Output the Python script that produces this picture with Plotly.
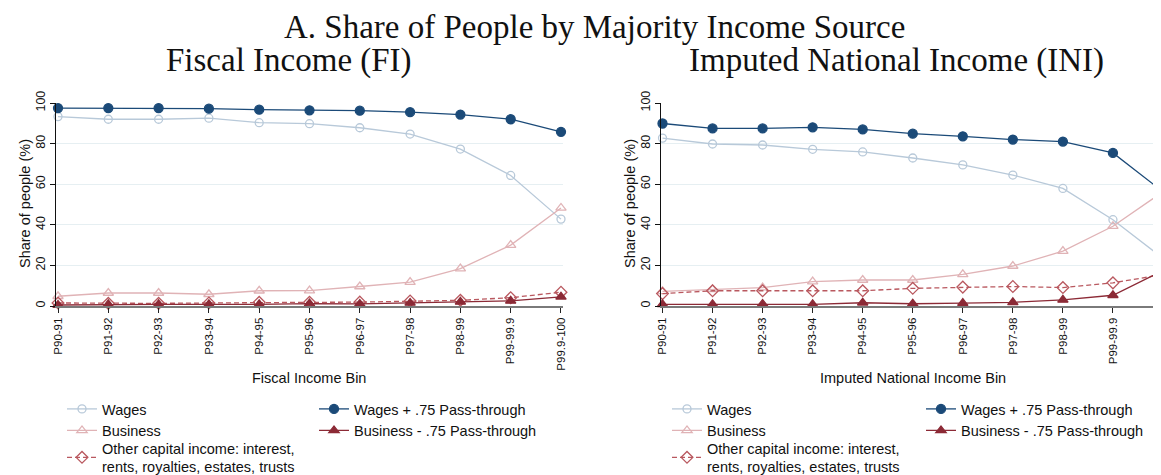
import plotly.graph_objects as go

bins = ["P90-91", "P91-92", "P92-93", "P93-94", "P94-95", "P95-96",
        "P96-97", "P97-98", "P98-99", "P99-99.9", "P99.9-100"]

# Fiscal Income (FI)
fi_wages = [93.3, 92.0, 92.0, 92.5, 90.3, 89.8, 87.8, 84.7, 77.3, 64.3, 42.8]
fi_business = [4.8, 6.4, 6.4, 5.8, 7.5, 7.6, 9.6, 11.8, 18.4, 30.0, 48.3]
fi_other = [1.5, 1.3, 1.3, 1.5, 1.8, 1.8, 1.9, 2.5, 2.8, 4.1, 6.8]
fi_wages_pt = [97.5, 97.5, 97.5, 97.2, 96.7, 96.4, 96.2, 95.5, 94.3, 92.0, 85.8]
fi_business_pt = [0.5, 0.8, 0.8, 0.8, 0.8, 1.2, 1.0, 1.5, 2.0, 2.5, 4.5]

# Imputed National Income (INI)
ini_wages = [82.7, 79.8, 79.3, 77.2, 75.9, 72.9, 69.5, 64.5, 57.9, 42.5, 23.5]
ini_business = [7.2, 8.2, 9.1, 12.0, 12.8, 12.8, 15.6, 19.7, 27.0, 39.3, 56.3]
ini_other = [6.1, 7.5, 7.5, 7.5, 7.5, 8.7, 9.3, 9.6, 9.1, 11.4, 15.5]
ini_wages_pt = [89.9, 87.5, 87.5, 88.0, 87.0, 84.9, 83.6, 82.0, 81.0, 75.4, 56.3]
ini_business_pt = [0.8, 0.8, 1.0, 0.8, 1.6, 1.1, 1.4, 1.8, 3.0, 5.3, 17.5]

names = ["Wages", "Business",
         "Other capital income: interest,<br>rents, royalties, estates, trusts",
         "Wages + .75 Pass-through", "Business - .75 Pass-through"]

C_W = "#b8c9d9"
C_WPT = "#1b4a78"
C_B = "#e0b3b6"
C_BPT = "#8c2a36"
C_O = "#b9585f"

styles = [
    dict(color=C_W, symbol="circle-open", size=8, dash="solid"),
    dict(color=C_B, symbol="triangle-up-open", size=9, dash="solid"),
    dict(color=C_O, symbol="diamond-open", size=9, dash="5px,3px"),
    dict(color=C_WPT, symbol="circle", size=9, dash="solid"),
    dict(color=C_BPT, symbol="triangle-up", size=9, dash="solid"),
]

W, H = 1161, 475
T, B = 95, 173
PH = H - T - B

def py(ypx):
    return (T + PH - ypx) / PH

sans = "Liberation Sans, Arial, sans-serif"
serif = "Liberation Serif, Times New Roman, serif"

fig = go.Figure()

panels = [
    ([fi_wages, fi_business, fi_other, fi_wages_pt, fi_business_pt], "x", "y", 54, 306),
    ([ini_wages, ini_business, ini_other, ini_wages_pt, ini_business_pt], "x2", "y2", 659, 913),
]
leg_y = [407, 429, 457, 407, 429]
xidx = list(range(len(bins)))
li = 0
for series, xa, ya, c1, c2 in panels:
    for k, (vals, st) in enumerate(zip(series, styles)):
        li += 1
        lname = "legend" if li == 1 else f"legend{li}"
        fig.add_trace(go.Scatter(
            x=xidx, y=vals, xaxis=xa, yaxis=ya, name=names[k],
            mode="lines+markers", cliponaxis=False,
            line=dict(color=st["color"], width=1.3, dash=st["dash"]),
            marker=dict(color=st["color"], symbol=st["symbol"], size=st["size"],
                        line=dict(color=st["color"], width=1.3)),
            legend=lname, showlegend=True,
        ))
        fig.update_layout({lname: dict(
            x=(c1 if k < 3 else c2) / W, xanchor="left",
            y=py(leg_y[k]), yanchor="middle",
            bgcolor="rgba(0,0,0,0)", borderwidth=0,
            font=dict(family=sans, size=14.5, color="#111"),
            itemclick=False, itemdoubleclick=False,
        )})

xcommon = dict(
    tickmode="array", tickvals=xidx, ticktext=bins, tickangle=-90,
    tickfont=dict(family=sans, size=11.5, color="#111"),
    ticks="outside", ticklen=5, tickcolor="#222", tickwidth=1,
    ticklabeloverflow="allow",
    showline=True, linecolor="#7a7a7a", linewidth=2, showgrid=False,
    zeroline=False, automargin=False, fixedrange=True,
)
ycommon = dict(
    range=[0, 100], tickvals=[0, 20, 40, 60, 80, 100], tickangle=-90,
    tickfont=dict(family=sans, size=12.5, color="#111"),
    ticks="outside", ticklen=5, tickcolor="#111", tickwidth=1,
    showline=True, linecolor="#111", linewidth=1,
    showgrid=True, gridcolor="#e6eff2", gridwidth=1,
    zeroline=False, automargin=False, fixedrange=True,
)

fig.update_layout(
    width=W, height=H,
    margin=dict(l=0, r=0, t=T, b=B),
    paper_bgcolor="white", plot_bgcolor="white",
    xaxis=dict(xcommon, domain=[48 / W, 555 / W], range=[-0.04, 10.04], anchor="y"),
    yaxis=dict(ycommon, domain=[0, 1], anchor="x"),
    xaxis2=dict(xcommon, domain=[653 / W, 1.0], range=[-0.03, 10.12], anchor="y2"),
    yaxis2=dict(ycommon, domain=[0, 1], anchor="x2"),
)

ann = [
    dict(text="A. Share of People by Majority Income Source", x=586 / W, y=py(18),
         font=dict(family=serif, size=33, color="#111")),
    dict(text="Fiscal Income (FI)", x=281 / W, y=py(52),
         font=dict(family=serif, size=33, color="#111")),
    dict(text="Imputed National Income (INI)", x=888 / W, y=py(52),
         font=dict(family=serif, size=33, color="#111")),
    dict(text="Fiscal Income Bin", x=301 / W, y=py(375),
         font=dict(family=sans, size=14.5, color="#111")),
    dict(text="Imputed National Income Bin", x=905 / W, y=py(375),
         font=dict(family=sans, size=14.5, color="#111")),
    dict(text="Share of people (%)", x=17 / W, y=py(198), textangle=-90,
         font=dict(family=sans, size=14.5, color="#111")),
    dict(text="Share of people (%)", x=622 / W, y=py(198), textangle=-90,
         font=dict(family=sans, size=14.5, color="#111")),
]
for a in ann:
    fig.add_annotation(xref="paper", yref="paper", showarrow=False,
                       xanchor="center", yanchor="middle", **a)

fig.write_html("out.html")
